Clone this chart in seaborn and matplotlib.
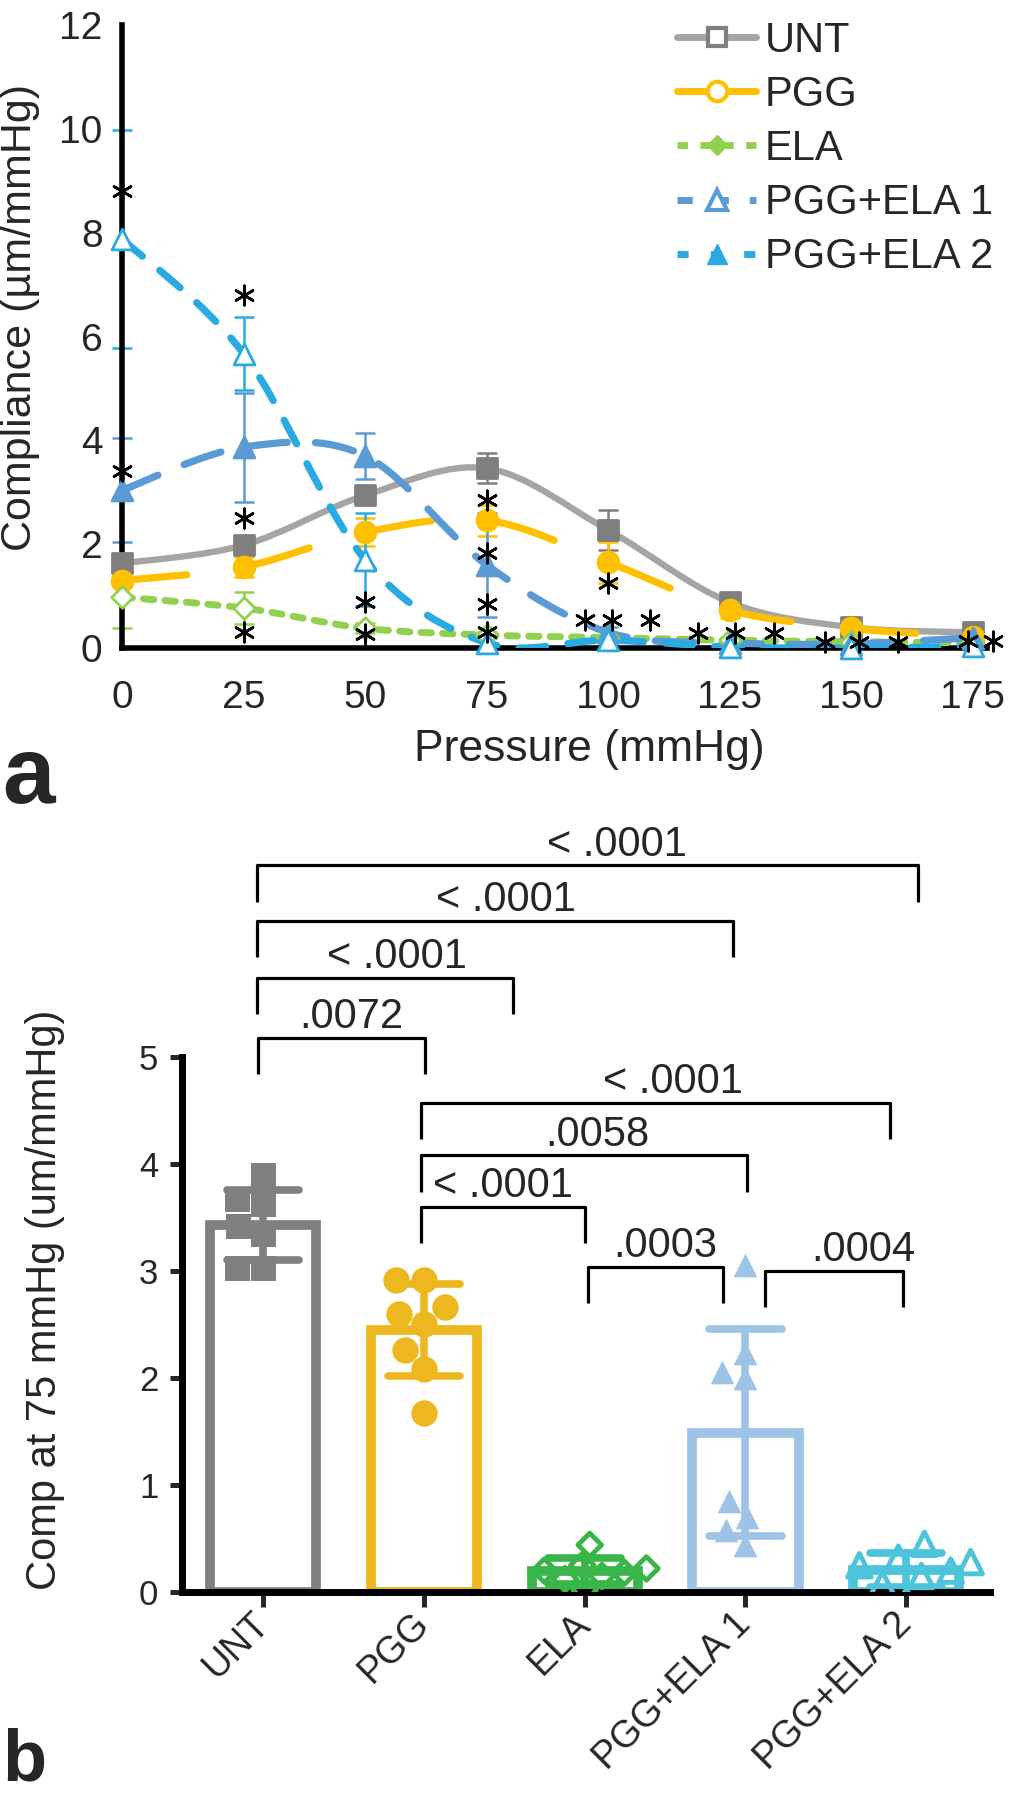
import numpy as np
import pandas as pd
import seaborn as sns
import matplotlib.pyplot as plt
from matplotlib.path import Path
from matplotlib.patches import PathPatch
from matplotlib.lines import Line2D

# ---- panel a: compliance vs pressure ----
pressure = [0, 25, 50, 75, 100, 125, 150, 175]
unt = [1.63, 1.98, 2.94, 3.46, 2.27, 0.88, 0.40, 0.30]
unt_sd = [0.10, 0.10, 0.12, 0.29, 0.38, 0.10, 0.08, 0.05]
pgg = [1.30, 1.56, 2.23, 2.46, 1.65, 0.73, 0.38, 0.22]
pgg_sd = [0.10, 0.20, 0.27, 0.30, 0.40, 0.15, 0.10, 0.05]
ela = [0.98, 0.77, 0.38, 0.25, 0.20, 0.15, 0.12, 0.10]
ela_sd = [0.60, 0.30, 0.10, 0.05, 0.05, 0.03, 0.03, 0.03]
pe1 = [3.04, 3.87, 3.70, 1.60, 0.30, 0.10, 0.08, 0.20]
pe1_sd = [1.00, 1.05, 0.45, 1.00, 0.10, 0.05, 0.05, 0.05]
pe2 = [7.88, 5.67, 1.70, 0.10, 0.15, 0.02, 0.00, 0.03]
pe2_sd = [2.10, 0.70, 0.90, 0.10, 0.10, 0.05, 0.05, 0.05]

# significance stars (pressure, compliance)
star_x = [0, 0, 25, 25, 25, 50, 50, 75, 75, 75, 75, 100,
          95.3, 100.8, 108.6, 118.5, 126, 134, 144.6, 151.6, 159.5, 173.9, 179.2]
star_y = [8.8, 3.4, 6.8, 2.5, 0.3, 0.88, 0.27, 2.85, 1.83, 0.85, 0.3, 1.25,
          0.54, 0.54, 0.54, 0.29, 0.29, 0.29, 0.12, 0.12, 0.12, 0.14, 0.14]

# ---- panel b: compliance at 75 mmHg ----
groups = ["UNT", "PGG", "ELA", "PGG+ELA 1", "PGG+ELA 2"]
comp_unt = [3.63, 3.90, 3.67, 3.42, 3.35, 3.03, 3.03]
comp_pgg = [2.92, 2.92, 2.66, 2.60, 2.50, 2.26, 2.08, 1.67]
comp_ela = [0.44, 0.25, 0.22, 0.20, 0.18, 0.15, 0.12, 0.02]
comp_pe1 = [3.06, 2.23, 2.00, 2.06, 0.85, 0.70, 0.58, 0.44]
comp_pe2 = [0.45, 0.32, 0.28, 0.25, 0.20, 0.15, 0.08, -0.08]

p_labels = ["< .0001", "< .0001", "< .0001", ".0072", "< .0001",
            ".0058", "< .0001", ".0003", ".0004"]


def smooth_path(x, y):
    # catmull-rom -> cubic bezier, like excel's smoothed line
    pts = np.column_stack([x, y]).astype(float)
    p = np.vstack([pts[0], pts, pts[-1]])
    verts = [pts[0]]
    codes = [Path.MOVETO]
    for i in range(1, len(p) - 2):
        c1 = p[i] + (p[i + 1] - p[i - 1]) / 6
        c2 = p[i + 1] - (p[i + 2] - p[i]) / 6
        verts += [c1, c2, p[i + 1]]
        codes += [Path.CURVE4] * 3
    return Path(verts, codes)


sns.set_style("white")
plt.rcParams['font.family'] = ['Liberation Sans', 'DejaVu Sans']

fig = plt.figure(figsize=(10.15, 18), dpi=100)
ax1 = fig.add_axes([0.1202, 0.64, 0.8522, 0.3461])
ax2 = fig.add_axes([0.1793, 0.11556, 0.796, 0.4161])

# name, values, sd, line colour, marker colour, marker, open, dashes, lw
series = [
    ("UNT", unt, unt_sd, "#A5A5A5", "#7F7F7F", "s", False, None, 4.6),
    ("PGG", pgg, pgg_sd, "#FFC000", "#FFC000", "o", False, (9, 8.4), 5.2),
    ("ELA", ela, ela_sd, "#92D050", "#92D050", "D", True, (1.5, 1.6), 5),
    ("PGG+ELA 1", pe1, pe1_sd, "#5B9BD5", "#5B9BD5", "^", False, (5.4, 3.9), 5.2),
    ("PGG+ELA 2", pe2, pe2_sd, "#29ABE2", "#29ABE2", "^", True, (3.7, 3.1), 5.2),
]

for name, vals, sd, lc, mc, mk, hollow, dash, lw in series:
    ax1.errorbar(pressure, vals, yerr=sd, fmt='none', ecolor=mc, elinewidth=1.8,
                 capsize=7, capthick=1.8, zorder=2, clip_on=False)
    ls = '-' if dash is None else (0, dash)
    patch = PathPatch(smooth_path(pressure, vals), fill=False, edgecolor=lc,
                      lw=lw, linestyle=ls, capstyle='round', zorder=3)
    ax1.add_patch(patch)
    sns.scatterplot(x=pressure, y=vals, marker=mk, s=15 ** 2 if mk != "D" else 11 ** 2,
                    color=mc, linewidth=2, ax=ax1, zorder=4, clip_on=False, legend=False)
    coll = ax1.collections[-1]
    coll.set_edgecolor(mc)
    if hollow:
        coll.set_facecolor('white')

sns.scatterplot(x=star_x, y=star_y, marker=(6, 2, 0), s=14 ** 2, color='black',
                linewidth=1.9, ax=ax1, zorder=5, clip_on=False, legend=False)

ax1.set_xlim(0, 177.9)
ax1.set_ylim(0, 12)
ax1.set_xticks(pressure)
ax1.set_yticks(range(0, 13, 2))
ax1.tick_params(axis='both', length=0, labelsize=28)
ax1.tick_params(axis='y', pad=14)
ax1.tick_params(axis='x', pad=23)
for s in ['top', 'right']:
    ax1.spines[s].set_visible(False)
for s in ['left', 'bottom']:
    ax1.spines[s].set_linewidth(4)
    ax1.spines[s].set_color('black')
ax1.set_xlabel("Pressure (mmHg)", fontsize=32)
ax1.xaxis.set_label_coords(0.54, -0.13)
ax1.set_ylabel("Compliance (µm/mmHg)", fontsize=31)
ax1.yaxis.set_label_coords(-0.095, 0.53)

leg_handles = [
    Line2D([], [], color="#A5A5A5", lw=5, marker="s", ms=13, mfc="white", mec="#7F7F7F", mew=3),
    Line2D([], [], color="#FFC000", lw=5, marker="o", ms=14, mfc="white", mec="#FFC000", mew=3),
    Line2D([], [], color="#92D050", lw=5, ls=(0, (1.5, 1.8)), marker="D", ms=10, mfc="#92D050", mec="#92D050"),
    Line2D([], [], color="#5B9BD5", lw=5, ls=(0, (2.2, 3.0)), marker="^", ms=14, mfc="white", mec="#5B9BD5", mew=3),
    Line2D([], [], color="#29ABE2", lw=5, ls=(0, (1.6, 3.2)), marker="^", ms=14, mfc="#29ABE2", mec="#29ABE2"),
]
ax1.legend(leg_handles, [s[0] for s in series], loc='upper left',
           bbox_to_anchor=(0.667, 0.9885), bbox_transform=fig.transFigure,
           frameon=False, fontsize=30, handlelength=1.9, handletextpad=0.2,
           labelspacing=0.34, borderpad=0, borderaxespad=0)

# ---- panel b ----
df_b = pd.concat([
    pd.DataFrame({"group": g, "value": v})
    for g, v in zip(groups, [comp_unt, comp_pgg, comp_ela, comp_pe1, comp_pe2])
], ignore_index=True)

colors_b = ["#808080", "#EDB81F", "#3AB54A", "#9DC3E6", "#4DC4DC"]
markers_b = ["s", "o", "D", "^", "^"]
sizes_b = [18, 19, 12, 17, 17]
hollow_b = [False, False, True, False, True]

for g, c in zip(groups, colors_b):
    sub = df_b[df_b["group"] == g]
    sns.barplot(data=sub, x="group", y="value", order=groups, color=c, fill=False,
                width=0.66, errorbar="sd", capsize=0.45, linewidth=7,
                err_kws={"color": c, "linewidth": 5.5}, ax=ax2)

for g, c, m, sz, hol in zip(groups, colors_b, markers_b, sizes_b, hollow_b):
    sub = df_b[df_b["group"] == g]
    n_before = len(ax2.collections)
    sns.swarmplot(data=sub, x="group", y="value", order=groups, color=c, marker=m,
                  size=sz, linewidth=0, ax=ax2, zorder=4, warn_thresh=1)
    for coll in ax2.collections[n_before:]:
        if len(coll.get_offsets()) == 0:
            continue
        if hol:
            coll.set_facecolor('none')
            coll.set_edgecolor(c)
            coll.set_linewidth(3.5)

# brackets: left, right (category units), height
br_left = [-0.037, -0.037, -0.037, -0.03, 0.98, 0.98, 0.98, 2.02, 3.12]
br_right = [4.07, 2.92, 1.553, 1.01, 3.90, 3.01, 2.0, 2.86, 3.98]
br_y = [6.79, 6.27, 5.74, 5.18, 4.57, 4.08, 3.60, 3.04, 3.00]
txt_x = [2.20, 1.51, 0.83, 0.55, 2.55, 2.08, 1.49, 2.50, 3.73]
for x1, x2, y, tx, lab in zip(br_left, br_right, br_y, txt_x, p_labels):
    ax2.plot([x1, x1, x2, x2], [y - 0.34, y, y, y - 0.34], color='black', lw=2.3,
             clip_on=False, solid_capstyle='butt')
    ax2.text(tx, y + 0.09, lab, ha='center', va='baseline', fontsize=30, clip_on=False)

ax2.set_xlim(-0.504, 4.52)
ax2.set_ylim(0, 7)
ax2.set_yticks(range(0, 6))
ax2.set_xticks(range(len(groups)))
ax2.set_xticklabels(groups, rotation=45, ha='right', va='center', rotation_mode='anchor')
for s in ['top', 'right']:
    ax2.spines[s].set_visible(False)
for s in ['left', 'bottom']:
    ax2.spines[s].set_linewidth(5)
    ax2.spines[s].set_color('black')
ax2.spines['left'].set_bounds(0, 5)
ax2.tick_params(axis='y', length=9, width=3.6, labelsize=25, pad=8, left=True)
ax2.tick_params(axis='x', length=11, width=3.6, labelsize=27, pad=8, bottom=True)
ax2.set_xlabel("")
ax2.set_ylabel("Comp at 75 mmHg (um/mmHg)", fontsize=30)
ax2.yaxis.set_label_coords(-0.145, 0.39)

fig.text(0.002, 0.554, "a", fontsize=68, fontweight='bold', va='baseline')
fig.text(0.002, 0.011, "b", fontsize=52, fontweight='bold', va='baseline')

fig.savefig("out.png", dpi=100)
